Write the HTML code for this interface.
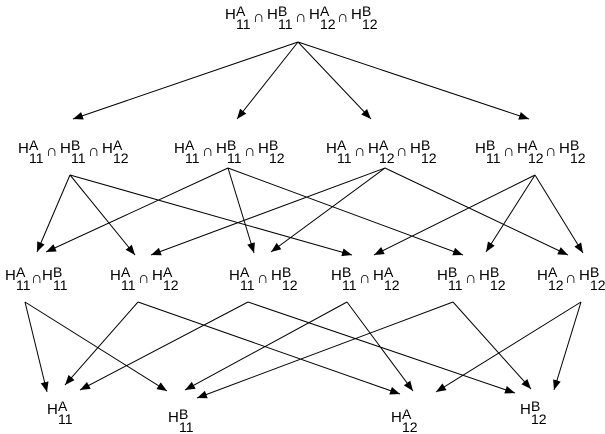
<!DOCTYPE html>
<html><head><meta charset="utf-8"><style>
html,body{margin:0;padding:0;background:#fff;}
svg{display:block;}
text{font-family:"Liberation Sans",Arial,sans-serif;fill:#000;font-size:15px;}
.s{font-size:14px;}
.c{font-size:16px;}
</style></head><body>
<svg width="605" height="434" viewBox="0 0 605 434" xmlns="http://www.w3.org/2000/svg">
<defs><marker id="a" markerUnits="userSpaceOnUse" markerWidth="11" markerHeight="9" refX="10" refY="4" orient="auto"><path d="M0,0 L10,4 L0,8 z" fill="#000"/></marker></defs>
<g stroke="#000" stroke-width="1" marker-end="url(#a)">
<line x1="298" y1="42" x2="73" y2="119"/>
<line x1="298" y1="42" x2="237" y2="119"/>
<line x1="298" y1="42" x2="371" y2="119"/>
<line x1="298" y1="42" x2="529" y2="119"/>
<line x1="70" y1="175" x2="37" y2="252"/>
<line x1="70" y1="175" x2="135" y2="255"/>
<line x1="70" y1="175" x2="352" y2="255"/>
<line x1="228" y1="168" x2="46" y2="252"/>
<line x1="228" y1="168" x2="254" y2="253"/>
<line x1="228" y1="168" x2="463" y2="255"/>
<line x1="385" y1="168" x2="151" y2="255"/>
<line x1="385" y1="168" x2="271" y2="252"/>
<line x1="385" y1="168" x2="568" y2="255"/>
<line x1="535" y1="175" x2="374" y2="255"/>
<line x1="535" y1="175" x2="486" y2="252"/>
<line x1="535" y1="175" x2="583" y2="253"/>
<line x1="25" y1="302" x2="47" y2="392"/>
<line x1="25" y1="302" x2="167" y2="391"/>
<line x1="138" y1="302" x2="65" y2="385"/>
<line x1="138" y1="302" x2="400" y2="394"/>
<line x1="248" y1="302" x2="80" y2="390"/>
<line x1="248" y1="302" x2="515" y2="393"/>
<line x1="347" y1="302" x2="185" y2="390"/>
<line x1="347" y1="302" x2="413" y2="391"/>
<line x1="453" y1="302" x2="197" y2="398"/>
<line x1="453" y1="302" x2="531" y2="389"/>
<line x1="581" y1="302" x2="436" y2="392"/>
<line x1="581" y1="302" x2="554" y2="390"/>
</g>
<!-- top -->
<text x="225" y="19">H</text><text class="s" x="236" y="16">A</text><text class="s" x="236" y="29">11</text><text class="c" x="253" y="22">∩</text>
<text x="267" y="19">H</text><text class="s" x="278" y="16">B</text><text class="s" x="278" y="29">11</text><text class="c" x="295" y="22">∩</text>
<text x="309" y="19">H</text><text class="s" x="320" y="16">A</text><text class="s" x="320" y="29">12</text><text class="c" x="337" y="22">∩</text>
<text x="351" y="19">H</text><text class="s" x="362" y="16">B</text><text class="s" x="362" y="29">12</text>
<!-- L2 -->
<text x="18" y="153">H</text><text class="s" x="29" y="150">A</text><text class="s" x="29" y="163">11</text><text class="c" x="46" y="156">∩</text>
<text x="60" y="153">H</text><text class="s" x="71" y="150">B</text><text class="s" x="71" y="163">11</text><text class="c" x="88" y="156">∩</text>
<text x="102" y="153">H</text><text class="s" x="113" y="150">A</text><text class="s" x="113" y="163">12</text>

<text x="174" y="153">H</text><text class="s" x="185" y="150">A</text><text class="s" x="185" y="163">11</text><text class="c" x="202" y="156">∩</text>
<text x="216" y="153">H</text><text class="s" x="227" y="150">B</text><text class="s" x="227" y="163">11</text><text class="c" x="244" y="156">∩</text>
<text x="258" y="153">H</text><text class="s" x="269" y="150">B</text><text class="s" x="269" y="163">12</text>

<text x="326" y="153">H</text><text class="s" x="337" y="150">A</text><text class="s" x="337" y="163">11</text><text class="c" x="354" y="156">∩</text>
<text x="368" y="153">H</text><text class="s" x="379" y="150">A</text><text class="s" x="379" y="163">12</text><text class="c" x="396" y="156">∩</text>
<text x="410" y="153">H</text><text class="s" x="421" y="150">B</text><text class="s" x="421" y="163">12</text>

<text x="475" y="153">H</text><text class="s" x="486" y="150">B</text><text class="s" x="486" y="163">11</text><text class="c" x="503" y="156">∩</text>
<text x="517" y="153">H</text><text class="s" x="528" y="150">A</text><text class="s" x="528" y="163">12</text><text class="c" x="545" y="156">∩</text>
<text x="559" y="153">H</text><text class="s" x="570" y="150">B</text><text class="s" x="570" y="163">12</text>
<!-- L3 -->
<text x="5" y="280">H</text><text class="s" x="16" y="277">A</text><text class="s" x="16" y="290">11</text><text class="c" x="31" y="283">∩</text>
<text x="42" y="280">H</text><text class="s" x="53" y="277">B</text><text class="s" x="53" y="290">11</text>

<text x="110" y="280">H</text><text class="s" x="121" y="277">A</text><text class="s" x="121" y="290">11</text><text class="c" x="138" y="283">∩</text>
<text x="152" y="280">H</text><text class="s" x="163" y="277">A</text><text class="s" x="163" y="290">12</text>

<text x="229" y="280">H</text><text class="s" x="240" y="277">A</text><text class="s" x="240" y="290">11</text><text class="c" x="257" y="283">∩</text>
<text x="271" y="280">H</text><text class="s" x="282" y="277">B</text><text class="s" x="282" y="290">12</text>

<text x="331" y="280">H</text><text class="s" x="342" y="277">B</text><text class="s" x="342" y="290">11</text><text class="c" x="359" y="283">∩</text>
<text x="373" y="280">H</text><text class="s" x="384" y="277">A</text><text class="s" x="384" y="290">12</text>

<text x="437" y="280">H</text><text class="s" x="448" y="277">B</text><text class="s" x="448" y="290">11</text><text class="c" x="465" y="283">∩</text>
<text x="479" y="280">H</text><text class="s" x="490" y="277">B</text><text class="s" x="490" y="290">12</text>

<text x="537" y="280">H</text><text class="s" x="548" y="277">A</text><text class="s" x="548" y="290">12</text><text class="c" x="565" y="283">∩</text>
<text x="579" y="280">H</text><text class="s" x="590" y="277">B</text><text class="s" x="590" y="290">12</text>
<!-- L4 -->
<text x="47" y="414">H</text><text class="s" x="58" y="411">A</text><text class="s" x="58" y="424">11</text>
<text x="168" y="422">H</text><text class="s" x="179" y="419">B</text><text class="s" x="179" y="432">11</text>
<text x="391" y="422">H</text><text class="s" x="402" y="419">A</text><text class="s" x="402" y="432">12</text>
<text x="520" y="414">H</text><text class="s" x="531" y="411">B</text><text class="s" x="531" y="424">12</text>
</svg>
</body></html>
